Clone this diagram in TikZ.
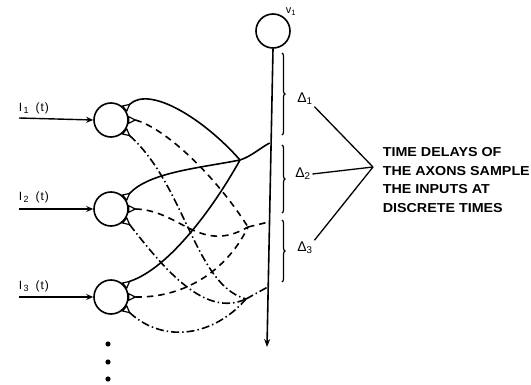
\documentclass[tikz,border=0pt]{standalone}
\usepackage{fontspec}
\setmainfont{Liberation Sans}
\newfontfamily\notefont[FakeStretch=1.1]{Liberation Sans}
\usetikzlibrary{arrows.meta,decorations.pathreplacing}

\tikzset{
  neuron/.style={circle, draw, line width=1.6pt, minimum size=34pt, inner sep=0pt},
  synapse/.pic={
    \draw[line width=1.2pt, fill=white] (0,3.3) -- (6.5,0) -- (0,-3.3) -- cycle;
    \coordinate (-tip) at (6.5,0);
  },
  fibre/.style={line width=1.6pt},
  dashfibre/.style={line width=1.6pt, dash pattern=on 6.5pt off 5pt},
  dotfibre/.style={line width=1.6pt, dash pattern=on 8pt off 3pt on 1.5pt off 3pt},
  delaybrace/.style={decorate, decoration={brace, amplitude=3pt}, line width=1.2pt},
  inlabel/.style={anchor=base west, inner sep=0pt, font=\fontsize{12}{14}\selectfont},
  deltalabel/.style={inner sep=1pt, font=\fontsize{14}{16}\selectfont},
}

\begin{document}
\begin{tikzpicture}[x=1pt, y=-1pt, line width=1.6pt]
\useasboundingbox (0,0) rectangle (531,385);

% input neurons and the output neuron
\node[neuron] (n1) at (111,120) {};
\node[neuron] (n2) at (111,209) {};
\node[neuron] (n3) at (111,297) {};
\node[neuron] (v)  at (273,31) {};
\node[anchor=base west, inner sep=0pt, font=\fontsize{11}{13}\selectfont] (vl) at (285,14) {v\textsubscript{1}};

% synapses on each input neuron
\foreach \n in {1,2,3}{
  \pic[rotate=40]  (a\n) at (n\n.40)  {synapse};
  \pic[rotate=0]   (b\n) at (n\n.0)   {synapse};
  \pic[rotate=-40] (c\n) at (n\n.-40) {synapse};
}

% inputs
\coordinate (i1) at (19,118);
\coordinate (i2) at (19,209);
\coordinate (i3) at (19,297);
\foreach \n in {1,2,3}{
  \draw[line width=1.4pt, -{Stealth[length=7pt,width=6pt]}] (i\n) -- (n\n.west);
}
\node[inlabel] (l1) at (18,112) {I\kern1.5pt\raisebox{-2pt}{\fontsize{9}{10}\selectfont 1}\kern7pt(\kern1pt t\kern1pt)};
\node[inlabel] (l2) at (18,201) {I\kern1.5pt\raisebox{-2pt}{\fontsize{9}{10}\selectfont 2}\kern7pt(\kern1pt t\kern1pt)};
\node[inlabel] (l3) at (18,290) {I\kern1.5pt\raisebox{-2pt}{\fontsize{9}{10}\selectfont 3}\kern7pt(\kern1pt t\kern1pt)};

% the axon of v1 with its tap points
\coordinate (axend) at (267,347);
\draw[line width=1.6pt, -{Stealth[length=8pt,width=6pt]}] (v.south) -- (axend);
\coordinate (js)  at (269.7,143);
\coordinate (jd)  at (268.7,222);
\coordinate (jdd) at (267.8,287);

% merge points of the fibres
\coordinate (ms)  at (240,160);
\coordinate (md)  at (248,227);
\coordinate (mdd) at (246,299);

% solid fibres
\draw[fibre] (a1-tip) .. controls (150,85) and (205,120) .. (ms);
\draw[fibre] (a2-tip) .. controls (150,172) and (200,168) .. (ms);
\draw[fibre] (a3-tip) .. controls (170,268) and (215,205) .. (ms);
\draw[fibre] (ms) .. controls (252,156) and (260,148) .. (js);

% dashed fibres
\draw[dashfibre] (b1-tip) .. controls (165,128) and (215,175) .. (md);
\draw[dashfibre] (b2-tip) .. controls (180,210) and (200,255) .. (md);
\draw[dashfibre] (b3-tip) .. controls (190,298) and (230,265) .. (md);
\draw[dashfibre] (md) -- (jd);

% dash-dotted fibres
\draw[dotfibre] (c1-tip) .. controls (185,185) and (195,285) .. (mdd);
\draw[dotfibre] (c2-tip) .. controls (165,270) and (205,318) .. (mdd);
\draw[dotfibre] (c3-tip) .. controls (165,345) and (215,335) .. (mdd);
\draw[dotfibre] (mdd) -- (jdd);

% delay braces
\draw[delaybrace] (282,53) -- (282,135);
\draw[delaybrace] (282,145) -- (282,213);
\draw[delaybrace] (282,220) -- (282,282);
\node[deltalabel] (d1) at (305,99)  {Δ\textsubscript{1}};
\node[deltalabel] (d2) at (303,174) {Δ\textsubscript{2}};
\node[deltalabel] (d3) at (305,248) {Δ\textsubscript{3}};

% note
\node[anchor=north west, align=left, inner sep=0pt,
      font=\notefont\bfseries\fontsize{13}{18.5}\selectfont] (txt) at (382,147)
  {TIME DELAYS OF\\THE AXONS SAMPLE\\THE INPUTS AT\\DISCRETE TIMES};
\coordinate (tp) at (373,167);
\draw[line width=1.3pt] (d1.south east) -- (tp);
\draw[line width=1.3pt] (d2.east) -- (tp);
\draw[line width=1.3pt] (d3.north east) -- (tp);

% more inputs follow
\foreach \y [count=\k] in {344,362,379}{
  \fill (108,\y) coordinate (dot\k) circle (2.6);
}
\end{tikzpicture}
\end{document}
